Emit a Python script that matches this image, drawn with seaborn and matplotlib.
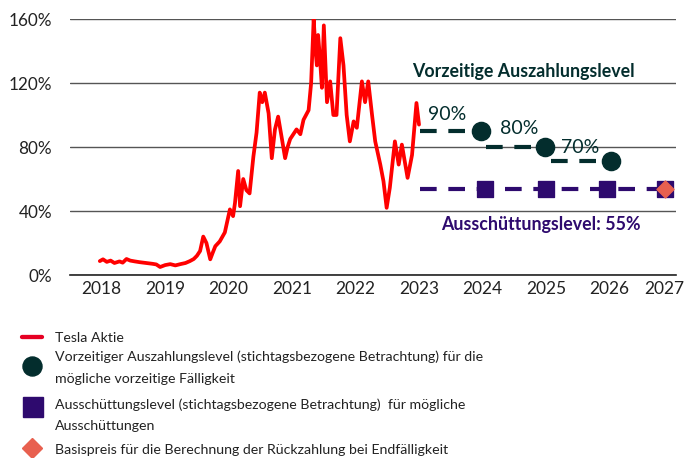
import matplotlib
matplotlib.use("Agg")
import matplotlib.pyplot as plt
import pandas as pd
import seaborn as sns
from matplotlib.lines import Line2D
from matplotlib.ticker import FixedLocator, FuncFormatter

# Tesla share price in % of the reference level
tesla_t = [2018.47, 2018.52, 2018.58, 2018.64, 2018.7, 2018.78, 2018.83, 2018.89, 2018.95,
           2019.02, 2019.1, 2019.2, 2019.3, 2019.36, 2019.42, 2019.5, 2019.58, 2019.66,
           2019.74, 2019.82, 2019.89, 2019.95, 2020.0, 2020.05, 2020.1, 2020.15, 2020.21,
           2020.25, 2020.29, 2020.36, 2020.44, 2020.52, 2020.57, 2020.6, 2020.65, 2020.68,
           2020.73, 2020.78, 2020.83, 2020.89, 2020.94, 2020.99, 2021.03, 2021.07, 2021.13,
           2021.18, 2021.23, 2021.28, 2021.34, 2021.39, 2021.43, 2021.47, 2021.52, 2021.57,
           2021.63, 2021.68, 2021.76, 2021.8, 2021.84, 2021.87, 2021.89, 2021.91, 2021.94,
           2021.97, 2022.0, 2022.05, 2022.1, 2022.15, 2022.2, 2022.26, 2022.31, 2022.36,
           2022.41, 2022.47, 2022.52, 2022.6, 2022.65, 2022.7, 2022.76, 2022.81, 2022.89,
           2022.94, 2022.99, 2023.04, 2023.12, 2023.18, 2023.23, 2023.32, 2023.39, 2023.46,
           2023.5]
tesla_v = [8.7, 9.8, 8.2, 9, 7.5, 8.5, 7.7, 10, 9,
           8.5, 8, 7.5, 7, 6.6, 5, 6.2, 6.8, 6,
           6.8, 7.5, 8.7, 10, 12, 15, 24, 20, 9.8,
           14, 18, 21, 26.6, 41, 36.8, 45, 65, 43,
           60, 53, 51, 74, 89, 114, 108, 114, 101,
           73, 91, 99, 85, 73, 80, 85, 88, 91,
           88, 97, 103, 120, 160, 140, 131, 150, 135,
           117, 156, 108, 121, 100, 100, 148, 131, 100,
           83.5, 96, 92, 121, 108, 121, 100, 83.5, 69,
           58.6, 42, 54.5, 83.5, 69, 81.5, 60.7, 75, 107.5,
           94]

# early redemption (autocall) levels
call_start = [2023.52, 2024.56, 2025.58]
call_end = [2024.48, 2025.48, 2026.53]
call_level = [90, 80, 71]
call_text = ["90%", "80%", "70%"]
call_text_x = [2023.94, 2025.08, 2026.04]
call_text_y = [100.2, 91.4, 79.8]

# coupon level observations
coupon_t = [2024.54, 2025.5, 2026.47, 2027.37]
coupon_level = 53.5
line_start = 2023.52
line_end = 2027.5

years = list(range(2018, 2028))
year_label_pos = [2018.5, 2019.5, 2020.5, 2021.5, 2022.5, 2023.5, 2024.5, 2025.5, 2026.5, 2027.36]

legend_lines = [
    "Tesla Aktie",
    "Vorzeitiger Auszahlungslevel (stichtagsbezogene Betrachtung) für die",
    "mögliche vorzeitige Fälligkeit",
    "Ausschüttungslevel (stichtagsbezogene Betrachtung)  für mögliche",
    "Ausschüttungen",
    "Basispreis für die Berechnung der Rückzahlung bei Endfälligkeit",
]
legend_line_y = [338, 357, 379, 405, 426, 450]

RED = "#ff0000"
TEAL = "#032d2d"
PURPLE = "#2e0a6e"
SALMON = "#e8604f"
TXT = "#222222"

sns.set_style("white")
plt.rcParams["font.family"] = ["Lato", "DejaVu Sans"]

W, H = 684, 458
fig = plt.figure(figsize=(W / 100, H / 100), dpi=100)
ax = fig.add_axes([70 / W, 1 - 275 / H, 606 / W, 256 / H])

tesla = pd.DataFrame({"t": tesla_t, "v": tesla_v})
sns.lineplot(data=tesla, x="t", y="v", ax=ax, color=RED, lw=2.7, zorder=3, sort=False)

for s, e, lv in zip(call_start, call_end, call_level):
    ax.plot([s, e], [lv, lv], color=TEAL, lw=3, dashes=(4, 2.8), zorder=3)
sns.scatterplot(x=call_end, y=call_level, ax=ax, color=TEAL, s=170, marker="o",
                edgecolor=TEAL, zorder=4)
for tx, ty, txt in zip(call_text_x, call_text_y, call_text):
    ax.text(tx, ty, txt, color=TEAL, fontsize=14, ha="center", va="center")

ax.plot([line_start, line_end], [coupon_level, coupon_level], color=PURPLE, lw=3,
        dashes=(4, 2.8), zorder=3)
sns.scatterplot(x=coupon_t, y=[coupon_level] * len(coupon_t), ax=ax, color=PURPLE,
                s=140, marker="s", edgecolor=PURPLE, zorder=4)
ax.scatter([coupon_t[-1]], [coupon_level], color=SALMON, s=75, marker="D", zorder=5)

ax.text(2025.14, 127, "Vorzeitige Auszahlungslevel", color=TEAL, fontsize=12.8,
        fontweight="bold", ha="center", va="center")
ax.text(2025.42, 31.5, "Ausschüttungslevel: 55%", color=PURPLE, fontsize=12.8,
        fontweight="bold", ha="center", va="center")

ax.set_xlim(2018, 2027.55)
ax.set_ylim(0, 160)
ax.set_yticks([0, 40, 80, 120, 160])
ax.yaxis.set_major_formatter(FuncFormatter(lambda v, p: f"{v:.0f}%"))
ax.yaxis.grid(True, color="#555555", lw=1)
ax.tick_params(axis="y", length=0, labelsize=12.3, pad=13, colors=TXT)

ax.xaxis.set_major_locator(FixedLocator(years))
ax.xaxis.set_minor_locator(FixedLocator(year_label_pos))
ax.xaxis.set_major_formatter(FuncFormatter(lambda v, p: ""))
ax.xaxis.set_minor_formatter(FuncFormatter(lambda v, p: str(years[p])))
ax.tick_params(axis="x", which="major", length=5, width=1, color=TXT, direction="out")
ax.tick_params(axis="x", which="minor", length=0, labelsize=12.5, pad=4, colors=TXT)
ax.set_xlabel("")
ax.set_ylabel("")
for side in ["left", "right", "top"]:
    ax.spines[side].set_visible(False)
ax.spines["bottom"].set_color(TXT)
ax.spines["bottom"].set_linewidth(1.2)


def fx(px):
    return px / W


def fy(py):
    return 1 - py / H


# legend drawn by hand below the chart
fig.add_artist(Line2D([fx(22), fx(42)], [fy(337), fy(337)], color="#e60023", lw=3.1,
                      transform=fig.transFigure))
fig.add_artist(Line2D([fx(32)], [fy(366)], color=TEAL, marker="o", ms=13.7, ls="",
                      transform=fig.transFigure))
fig.add_artist(Line2D([fx(32.5)], [fy(407)], color=PURPLE, marker="s", ms=14, ls="",
                      transform=fig.transFigure))
fig.add_artist(Line2D([fx(32)], [fy(448)], color=SALMON, marker="D", ms=10.2, ls="",
                      transform=fig.transFigure))
for txt, py in zip(legend_lines, legend_line_y):
    fig.text(fx(55), fy(py), txt, fontsize=10.2, color=TXT, ha="left", va="center")

fig.savefig("out.png", dpi=100)
